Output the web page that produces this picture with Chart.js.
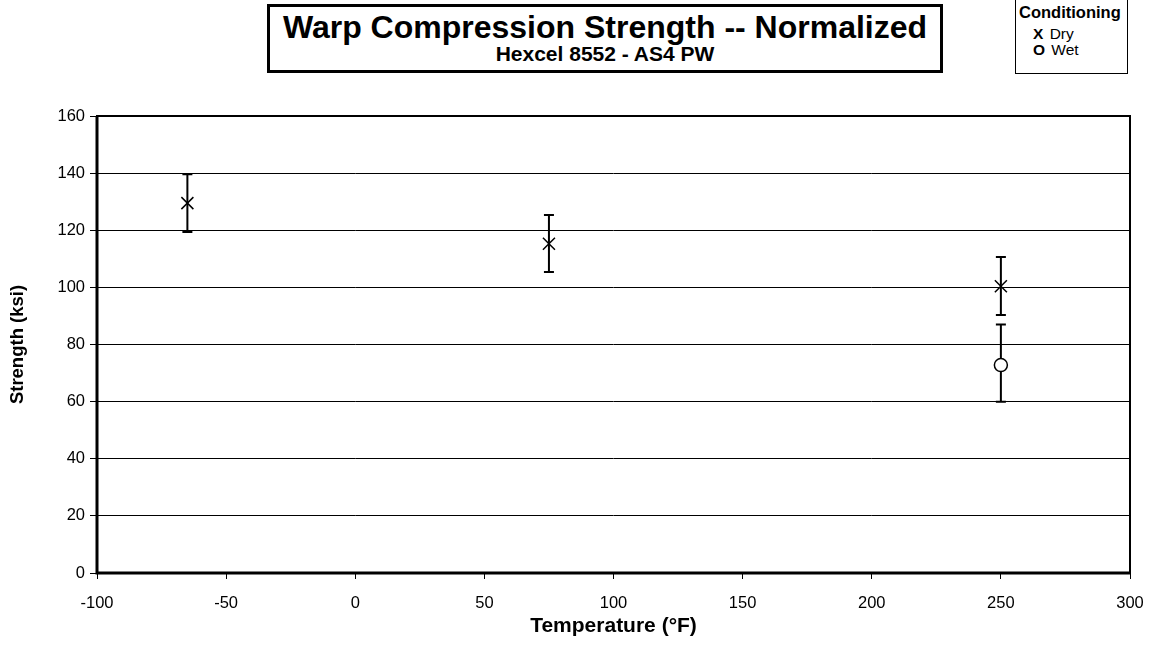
<!DOCTYPE html>
<html>
<head>
<meta charset="utf-8">
<title>Warp Compression Strength</title>
<script src="https://cdn.jsdelivr.net/npm/chart.js@4.4.1/dist/chart.umd.min.js"></script>
<style>
  html, body { margin: 0; padding: 0; background: #fff; }
  body { width: 1156px; height: 647px; position: relative; overflow: hidden; font-family: "Liberation Sans", Arial, sans-serif; }
  #wrap { position: absolute; left: 0; top: 0; width: 1156px; height: 647px; }
  .title-box {
    position: absolute; left: 267px; top: 4px; width: 670px; height: 63px;
    border: 3px solid #000; text-align: center; color: #000; background: #fff;
  }
  .title-box .main { font-weight: bold; font-size: 32px; line-height: 34px; margin-top: 3px; }
  .title-box .sub { font-weight: bold; font-size: 21px; line-height: 22px; margin-top: -1px; }
  .legend-box {
    position: absolute; left: 1015px; top: -2px; width: 111px; height: 74px;
    border: 1.5px solid #000; color: #000; background: #fff; font-size: 15.5px;
  }
  .legend-box .head { font-weight: bold; font-size: 16.5px; line-height: 20px; margin: 3px 0 0 3px; }
  .legend-box .row { margin-left: 17px; line-height: 16px; }
  .legend-box .head + .row { margin-top: 4px; }
  .legend-box .row b { margin-right: 2px; }
</style>
</head>
<body>
<div id="wrap"><canvas id="chart" width="1156" height="647"></canvas></div>
<div class="title-box">
  <div class="main">Warp Compression Strength -- Normalized</div>
  <div class="sub">Hexcel 8552 - AS4 PW</div>
</div>
<div class="legend-box">
  <div class="head">Conditioning</div>
  <div class="row"><b>X</b> Dry</div>
  <div class="row"><b>O</b> Wet</div>
</div>
<script>
// temperature (F), mean strength (ksi) and error bar ends
const dryTemps = [-65, 75, 250];
const dryMean = [129.5, 115.3, 100.4];
const dryLow = [119.4, 105.4, 90.3];
const dryHigh = [139.6, 125.3, 110.6];

const wetTemps = [250];
const wetMean = [72.8];
const wetLow = [60.0];
const wetHigh = [87.0];

const xTicks = [-100, -50, 0, 50, 100, 150, 200, 250, 300];
const yTicks = [0, 20, 40, 60, 80, 100, 120, 140, 160];

const toPoints = (xs, ys, lo, hi) => xs.map((x, i) => ({ x, y: ys[i], lo: lo[i], hi: hi[i] }));

// vertical error bars with short caps, drawn under the markers
const errorBars = {
    id: 'errorBars',
    beforeDatasetsDraw(chart) {
        const { ctx, scales: { x, y } } = chart;
        ctx.save();
        ctx.strokeStyle = '#000';
        ctx.lineWidth = 2;
        chart.data.datasets.forEach(ds => {
            ds.data.forEach(p => {
                const px = x.getPixelForValue(p.x);
                const top = y.getPixelForValue(p.hi);
                const bot = y.getPixelForValue(p.lo);
                ctx.beginPath();
                ctx.moveTo(px, top);
                ctx.lineTo(px, bot);
                ctx.moveTo(px - 5, top);
                ctx.lineTo(px + 5, top);
                ctx.moveTo(px - 5, bot);
                ctx.lineTo(px + 5, bot);
                ctx.stroke();
            });
        });
        ctx.restore();
    }
};

// heavy frame round the plot area
const frame = {
    id: 'frame',
    afterDraw(chart) {
        const { ctx, chartArea: a } = chart;
        ctx.save();
        ctx.strokeStyle = '#000';
        ctx.lineWidth = 2;
        ctx.strokeRect(a.left, a.top, a.right - a.left, a.bottom - a.top);
        ctx.lineWidth = 3;
        ctx.beginPath();
        ctx.moveTo(a.left, a.top);
        ctx.lineTo(a.left, a.bottom);
        ctx.lineTo(a.right, a.bottom);
        ctx.stroke();
        ctx.restore();
    }
};

Chart.defaults.font.family = '"Liberation Sans", Arial, sans-serif';
Chart.defaults.color = '#000';

new Chart(document.getElementById('chart'), {
    type: 'scatter',
    data: {
        datasets: [
            {
                label: 'Dry',
                data: toPoints(dryTemps, dryMean, dryLow, dryHigh),
                pointStyle: 'crossRot',
                pointRadius: 8.5,
                borderColor: '#000',
                borderWidth: 1.5,
            },
            {
                label: 'Wet',
                data: toPoints(wetTemps, wetMean, wetLow, wetHigh),
                pointStyle: 'circle',
                pointRadius: 6.5,
                borderColor: '#000',
                backgroundColor: '#fff',
                borderWidth: 1.5,
            }
        ]
    },
    options: {
        responsive: false,
        animation: false,
        layout: { padding: { top: 116, right: 26, left: 0, bottom: 0 } },
        plugins: {
            legend: { display: false },
            tooltip: { enabled: false },
        },
        scales: {
            x: {
                type: 'linear',
                min: xTicks[0],
                max: xTicks[xTicks.length - 1],
                afterBuildTicks: (s) => { s.ticks = xTicks.map(v => ({ value: v })); },
                afterFit: (s) => { s.height = 74; s.paddingLeft = 0; s.paddingRight = 0; },
                grid: { drawOnChartArea: false, drawTicks: true, tickLength: 6, color: '#000', lineWidth: 1 },
                border: { display: false },
                ticks: { font: { size: 16.5 }, padding: 15, maxRotation: 0 },
                title: { display: true, text: 'Temperature (°F)', font: { size: 21, weight: 'bold' }, padding: { top: 0, bottom: 8 } },
            },
            y: {
                min: yTicks[0],
                max: yTicks[yTicks.length - 1],
                afterBuildTicks: (s) => { s.ticks = yTicks.map(v => ({ value: v })); },
                afterFit: (s) => { s.width = 97; s.paddingTop = 0; s.paddingBottom = 0; },
                grid: { drawTicks: true, tickLength: 7, color: '#000', lineWidth: 1 },
                border: { display: false },
                ticks: { font: { size: 16.5 }, padding: 5 },
                title: { display: true, text: 'Strength (ksi)', font: { size: 18.5, weight: 'bold' }, padding: { top: 7, bottom: 0 } },
            }
        }
    },
    plugins: [errorBars, frame]
});
</script>
</body>
</html>
